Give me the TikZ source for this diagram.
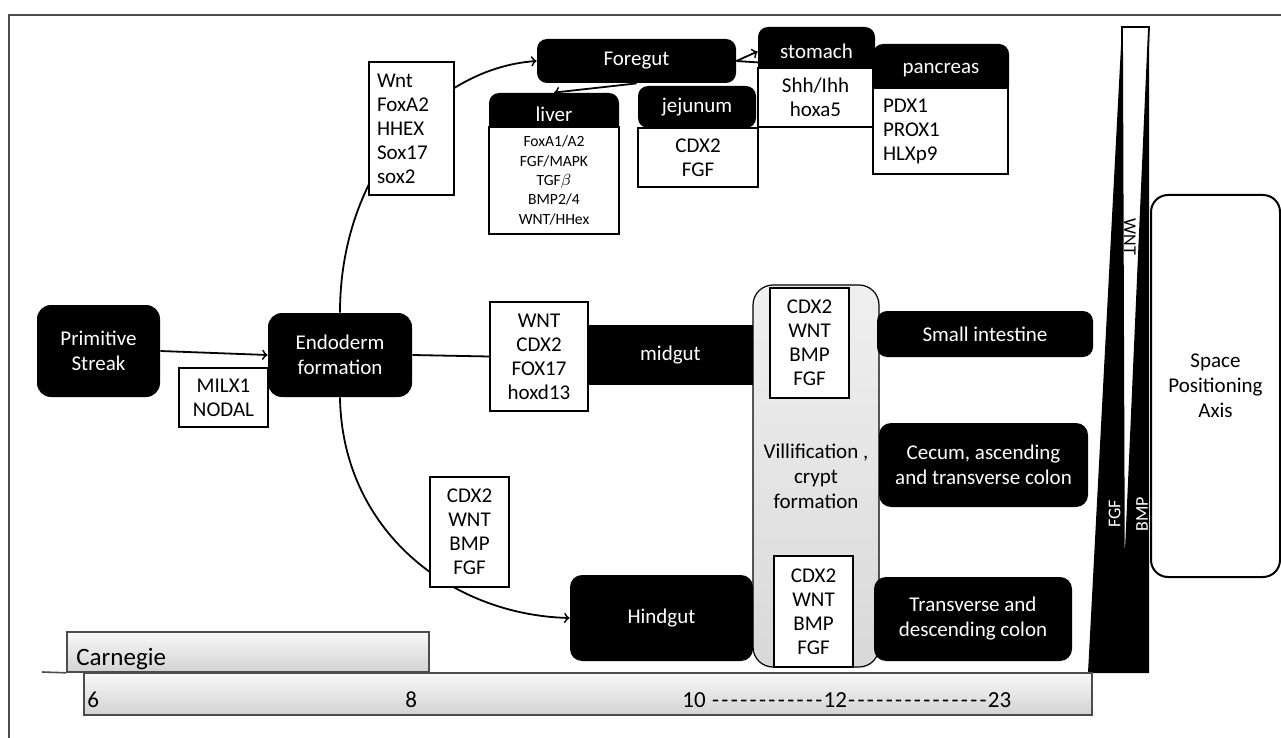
\documentclass[tikz,border=0pt]{standalone}
\usepackage{fontspec}
\setmainfont{Carlito}
\usetikzlibrary{backgrounds}

\newcommand{\dashrun}[1]{\foreach \k in {1,...,#1}{\makebox[4.7pt]{-}}}

\tikzset{
  stage/.style={fill=black, text=white, rounded corners=6pt, align=center, inner sep=0pt, font=\fontsize{10.5}{12.5}\selectfont},
  head/.style={stage, rounded corners=5pt},
  genes/.style={draw, fill=white, line width=0.9pt, align=center, inner sep=0pt, font=\fontsize{10.5}{12}\selectfont},
  track/.style={draw=gray!60!black, line width=0.8pt, top color=gray!5, bottom color=gray!35, inner sep=0pt},
  tick/.style={anchor=base west, inner sep=0pt, font=\fontsize{11.5}{11.5}\selectfont},
  link/.style={line width=0.9pt},
}

\begin{document}
\begin{tikzpicture}[x=0.5pt, y=-0.5pt]
    \useasboundingbox (0,0) rectangle (1281,738);
    \draw[gray!60!black, line width=1pt] (9,738) -- (9,15) -- (1281,15);

    % early stages
    \node[stage, minimum width=61.5pt, minimum height=46pt, rounded corners=7pt] (ps) at (98.5,351) {Primitive\\Streak};
    \node[stage, minimum width=72pt, minimum height=42pt, rounded corners=7pt] (endo) at (340,355) {Endoderm\\formation};
    \node[genes, minimum width=44.5pt, minimum height=29.5pt] (milx) at (223.5,397.5) {MILX1\\NODAL};

    % foregut branch
    \node[genes, align=left, text width=34.5pt, inner xsep=4pt, minimum height=66.5pt] (forelist) at (411.5,128.5) {Wnt\\FoxA2\\HHEX\\Sox17\\sox2};
    \node[stage, minimum width=99.5pt, minimum height=22pt, rounded corners=5pt] (fore) at (636.5,61) {Foregut};
    \node[head, minimum width=65pt, minimum height=21pt] (liverhd) at (554,114) {liver};
    \node[genes, minimum width=65pt, minimum height=53.5pt, font=\fontsize{7.8}{9.7}\selectfont] (liverlist) at (554,180.5) {FoxA1/A2\\FGF/MAPK\\TGF$\beta$\\BMP2/4\\WNT/HHex};
    \node[head, minimum width=59pt, minimum height=21pt] (jejhd) at (697,107) {jejunum};
    \node[genes, minimum width=60pt, minimum height=29.5pt] (jejlist) at (698,157.5) {CDX2\\FGF};
    \node[head, minimum width=58.5pt, minimum height=24.5pt] (stomhd) at (816.5,51.5) {stomach};
    \node[genes, minimum width=57.5pt, minimum height=29.5pt] (stomlist) at (815.5,97.5) {Shh/Ihh\\hoxa5};
    \node[head, minimum width=68pt, minimum height=26pt] (panchd) at (941,70) {pancreas};
    \node[genes, align=left, text width=57.5pt, inner xsep=5pt, minimum height=43pt] (panclist) at (940.5,131) {PDX1\\PROX1\\HLXp9};

    % midgut and hindgut branch
    \node[stage, rounded corners=0pt, minimum width=82.5pt, minimum height=30pt] (mid) at (670.5,355) {midgut};
    \node[genes, minimum width=49pt, minimum height=54.5pt] (midlist) at (539,356.5) {WNT\\CDX2\\FOX17\\hoxd13};
    \node[draw, line width=0.6pt, rounded corners=10pt, top color=gray!12, bottom color=gray!30, minimum width=63pt, minimum height=191pt, align=center, inner sep=0pt, font=\fontsize{10.5}{12.5}\selectfont] (villi) at (816,476) {Villification ,\\crypt\\formation};
    \node[genes, minimum width=39.5pt, minimum height=55pt] (villtop) at (809.5,343) {CDX2\\WNT\\BMP\\FGF};
    \node[genes, minimum width=39.5pt, minimum height=55.5pt] (villbot) at (813.5,611.5) {CDX2\\WNT\\BMP\\FGF};
    \node[stage, minimum width=108pt, minimum height=23pt, rounded corners=5pt] (smint) at (985,334) {Small intestine};
    \node[stage, minimum width=104.5pt, minimum height=42pt] (cecum) at (983.5,465) {Cecum, ascending\\and transverse colon};
    \node[stage, minimum width=99pt, minimum height=42pt] (trans) at (973,619) {Transverse and\\descending colon};
    \node[stage, minimum width=91.5pt, minimum height=43pt] (hind) at (661.5,618) {Hindgut};
    \node[genes, minimum width=39.5pt, minimum height=55pt] (hindlist) at (469.5,532) {CDX2\\WNT\\BMP\\FGF};

    % gradients and axis
    \fill (1122,27) -- (1149,27) -- (1149,673) -- (1088,673) -- cycle;
    \draw[fill=white, line width=0.9pt] (1122,27) -- (1149,27) -- (1124,593) -- cycle;
    \node[rotate=-90, inner sep=0pt, font=\fontsize{9}{9}\selectfont] (wntlbl) at (1130,237) {WNT};
    \node[rotate=90, text=white, inner sep=0pt, font=\fontsize{9}{9}\selectfont] (fgflbl) at (1114.5,514) {FGF};
    \node[rotate=90, text=white, inner sep=0pt, font=\fontsize{9}{9}\selectfont] (bmplbl) at (1142,514) {BMP};
    \node[draw, line width=1pt, rounded corners=8.5pt, minimum width=64.5pt, minimum height=191pt, align=center, inner sep=0pt, font=\fontsize{10.5}{12.5}\selectfont] (axis) at (1215.5,386) {Space\\Positioning\\Axis};

    % time line
    \node[track, minimum width=181pt, minimum height=20pt] (carn) at (248,652) {};
    \node[track, minimum width=504pt, minimum height=21pt] (bar) at (588,694) {};
    \node[tick, font=\fontsize{12.5}{12.5}\selectfont] (carnlbl) at (76,665) {Carnegie};
    \node[tick] (n6) at (87,707) {6};
    \node[tick] (n8) at (405,707) {8};
    \node[tick] (n10) at (682,707) {10 \dashrun{12}12\dashrun{15}23};
    \coordinate (tl0) at (42,672);
    \draw[gray!60!black, line width=0.8pt] (tl0) -- (carn.south west);

    % connectors
    \begin{scope}[on background layer]
    \draw[link,->] (ps.east) -- (endo.west);
    \draw[link] (endo.east) -- (midlist.west);
    \draw[link,->] (endo.north) .. controls (340,170) and (435,68) .. (fore.west);
    \draw[link,->] (endo.south) .. controls (342,530) and (450,615) .. (hind.west);
    \draw[link,->] (fore.south) -- (liverhd.north);
    \draw[link,->] (fore.east) -- (stomhd.west);
    \draw[link,->] (fore.east) -- (panchd.west);
    \end{scope}
\end{tikzpicture}
\end{document}
